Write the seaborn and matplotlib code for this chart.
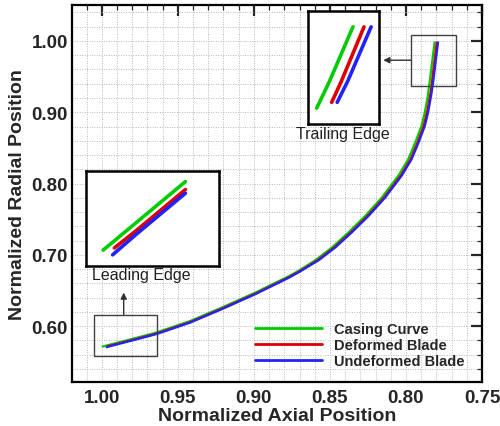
import numpy as np
import pandas as pd
import matplotlib
matplotlib.use("Agg")
import matplotlib.pyplot as plt
import seaborn as sns
from matplotlib.ticker import MultipleLocator, FormatStrFormatter
from matplotlib.patches import Rectangle

# ---- data ----
casing_x = [0.9995, 0.9900, 0.9760, 0.9640, 0.9420, 0.9210, 0.8990, 0.8770, 0.8705,
            0.8595, 0.8487, 0.8380, 0.8268, 0.8160, 0.8050, 0.7985, 0.7940, 0.7898,
            0.7877, 0.7858, 0.7842, 0.7812]
casing_y = [0.5713, 0.5765, 0.5842, 0.5910, 0.6070, 0.6260, 0.6470, 0.6700, 0.6777,
            0.6925, 0.7102, 0.7310, 0.7545, 0.7800, 0.8110, 0.8340, 0.8570, 0.8807,
            0.8990, 0.9210, 0.9460, 0.9980]
deformed_x = [0.9963, 0.9900, 0.9760, 0.9640, 0.9420, 0.9210, 0.8990, 0.8770, 0.8705,
              0.8580, 0.8472, 0.8365, 0.8253, 0.8145, 0.8035, 0.7970, 0.7925, 0.7884,
              0.7863, 0.7839, 0.7827, 0.7798]
deformed_y = [0.5717, 0.5750, 0.5827, 0.5895, 0.6055, 0.6245, 0.6455, 0.6685, 0.6762,
              0.6925, 0.7102, 0.7310, 0.7545, 0.7800, 0.8110, 0.8340, 0.8570, 0.8807,
              0.8990, 0.9265, 0.9460, 0.9980]
undeformed_x = [0.9968, 0.9900, 0.9760, 0.9640, 0.9420, 0.9210, 0.8990, 0.8770, 0.8705,
                0.8573, 0.8465, 0.8358, 0.8246, 0.8138, 0.8028, 0.7963, 0.7918, 0.7876,
                0.7855, 0.7832, 0.7819, 0.7789]
undeformed_y = [0.5704, 0.5743, 0.5820, 0.5888, 0.6048, 0.6238, 0.6448, 0.6678, 0.6755,
                0.6925, 0.7102, 0.7310, 0.7545, 0.7800, 0.8110, 0.8340, 0.8570, 0.8807,
                0.8990, 0.9265, 0.9460, 0.9980]
series_names = ["Casing Curve", "Deformed Blade", "Undeformed Blade"]
x_ticks = [1.00, 0.95, 0.90, 0.85, 0.80, 0.75]
y_ticks = [0.60, 0.70, 0.80, 0.90, 1.00]

frames = []
for name, xs, ys in zip(series_names, [casing_x, deformed_x, undeformed_x],
                        [casing_y, deformed_y, undeformed_y]):
    frames.append(pd.DataFrame({"x": xs, "y": ys, "series": name}))
df = pd.concat(frames, ignore_index=True)

palette = {"Casing Curve": "#00cc00", "Deformed Blade": "#dd0000",
           "Undeformed Blade": "#2222ff"}

sns.set_style("white")
plt.rcParams["font.family"] = ["Liberation Sans", "DejaVu Sans"]
plt.rcParams["font.weight"] = "bold"

fig = plt.figure(figsize=(5.0, 4.27), dpi=100)
ax = fig.add_axes([0.144, 0.103, 0.820, 0.883])

sns.lineplot(data=df, x="x", y="y", hue="series", palette=palette, sort=False,
             estimator=None, lw=1.6, ax=ax)

ax.set_xlim(1.0196, 0.75)
ax.set_ylim(0.5215, 1.0505)
ax.xaxis.set_minor_locator(MultipleLocator(0.01))
ax.yaxis.set_minor_locator(MultipleLocator(0.02))
ax.set_xticks(x_ticks)
ax.set_yticks(y_ticks)
ax.xaxis.set_major_formatter(FormatStrFormatter("%.2f"))
ax.yaxis.set_major_formatter(FormatStrFormatter("%.2f"))
ax.grid(which="both", color="#b8b8b8", linestyle=(0, (1, 1.5)), linewidth=0.7)
ax.set_axisbelow(True)
ax.tick_params(which="major", direction="in", length=8, width=1.6,
               top=True, right=True, labelsize=13.5)
ax.tick_params(axis="y", which="major", pad=3)
ax.tick_params(axis="x", which="major", pad=5)
ax.tick_params(which="minor", direction="in", length=3.5, width=0.9,
               top=True, right=True)
for lab in ax.get_xticklabels() + ax.get_yticklabels():
    lab.set_fontweight("bold")
for sp in ax.spines.values():
    sp.set_linewidth(1.6)
    sp.set_color("black")
ax.set_xlabel("Normalized Axial Position", fontsize=14, fontweight="bold", labelpad=1)
ax.set_ylabel("Normalized Radial Position", fontsize=14, fontweight="bold", labelpad=4)

leg = ax.legend(loc="lower right", bbox_to_anchor=(0.978, 0.014), frameon=False,
                fontsize=10.5, handlelength=4.6, handletextpad=0.8,
                labelspacing=0.12, borderaxespad=0.2)
for line in leg.get_lines():
    line.set_linewidth(2.0)
for t in leg.get_texts():
    t.set_fontweight("bold")

# zoom boxes and arrows
ax.add_patch(Rectangle((1.0052, 0.5577), 0.9640 - 1.0052, 0.6153 - 0.5577,
                       fill=False, edgecolor="#404040", lw=1.0, zorder=5))
ax.add_patch(Rectangle((0.7966, 0.9364), 0.767 - 0.7966, 1.009 - 0.9364,
                       fill=False, edgecolor="#404040", lw=1.0, zorder=5))
ax.annotate("", xy=(0.9856, 0.647), xytext=(0.9856, 0.6153),
            arrowprops=dict(arrowstyle="-|>", color="#303030", lw=1.0,
                            mutation_scale=9, shrinkA=0, shrinkB=0))
ax.annotate("", xy=(0.8149, 0.973), xytext=(0.7966, 0.973),
            arrowprops=dict(arrowstyle="-|>", color="#303030", lw=1.0,
                            mutation_scale=9, shrinkA=0, shrinkB=0))

# insets
def make_inset(rect, xlim, ylim, mask_col, lo, hi):
    ins = fig.add_axes(rect)
    sub = df[(df[mask_col] >= lo) & (df[mask_col] <= hi)]
    sns.lineplot(data=sub, x="x", y="y", hue="series", palette=palette, sort=False,
                 estimator=None, lw=2.6, ax=ins, legend=False)
    ins.set_xlim(*xlim)
    ins.set_ylim(*ylim)
    ins.set_xticks([])
    ins.set_yticks([])
    ins.set_xlabel("")
    ins.set_ylabel("")
    ins.set_facecolor("white")
    for sp in ins.spines.values():
        sp.set_linewidth(1.8)
        sp.set_color("black")
    return ins

make_inset([0.172, 0.3747, 0.266, 0.2225], (1.0044, 0.9664), (0.5683, 0.5862),
           "x", 0.975, 1.01)
make_inset([0.616, 0.7073, 0.142, 0.2646], (0.7869, 0.7779), (0.906, 1.013),
           "y", 0.92, 1.01)

fig.text(0.282, 0.354, "Leading Edge", ha="center", va="center",
         fontsize=11.5, fontweight="normal", color="#202020")
fig.text(0.686, 0.686, "Trailing Edge", ha="center", va="center",
         fontsize=11.5, fontweight="normal", color="#202020")

fig.savefig("out.png", dpi=100)
